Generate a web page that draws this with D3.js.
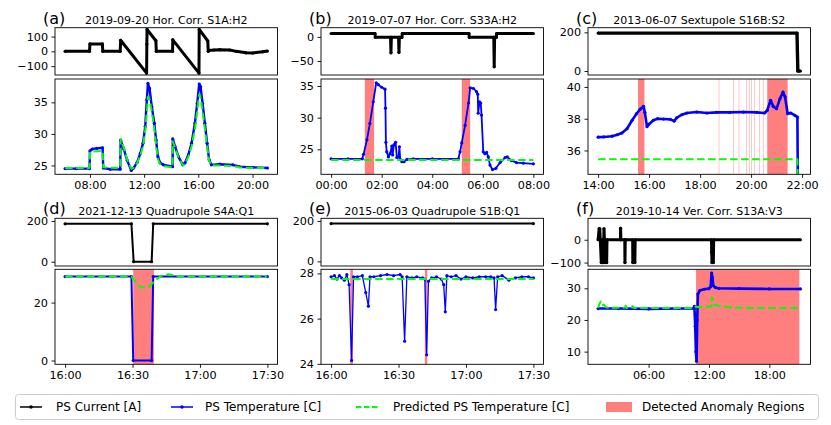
<!DOCTYPE html>
<html>
<head>
<meta charset="utf-8">
<script src="https://cdn.jsdelivr.net/npm/d3@7"></script>
<style>
  body { margin: 0; background: #fff; }
  svg { font-family: "DejaVu Sans", sans-serif; }
</style>
</head>
<body>
<svg id="chart" width="831" height="425"></svg>
<script>
// ---------- data (time "HH:MM", minutes may be fractional) ----------

// (a) 2019-09-20 Hor. Corr. S1A:H2
const aCurrent = [["06:10",0],["07:58",0],["08:00",50],["08:55",50],["08:57",0],["10:14",0],["10:16",75],["12:11",-147],["12:12",48],["12:13",148],["12:52",72],["12:54",0],["14:06",0],["14:07",78],["16:03",-147],["16:04",148],["16:42",70],["16:44",0],["16:46",5],["17:10",9],["17:35",11],["18:19",9],["18:48",0],["19:32",-10],["20:01",-11],["20:45",-3],["21:06",2]];
const aTemp = [["06:10",24.5],["07:00",24.5],["07:58",24.5],["08:00",27.3],["08:10",27.6],["08:30",27.7],["08:56",27.8],["08:59",24.6],["09:30",24.4],["10:14",24.4],["10:16",29.0],["10:30",27.6],["10:45",25.8],["11:03",24.2],["11:14",24.6],["11:29",25.5],["11:43",26.9],["11:55",28.5],["12:05",31.2],["12:12",35.4],["12:17",38.0],["12:24",37.2],["12:34",34.3],["12:45",31.7],["12:53",29.0],["13:01",26.4],["13:11",25.4],["13:26",25.1],["14:06",24.8],["14:07",29.2],["14:17",28.0],["14:32",26.4],["14:51",25.1],["15:01",25.4],["15:16",26.7],["15:30",28.5],["15:45",31.7],["15:55",34.8],["16:04",37.9],["16:10",37.5],["16:19",34.8],["16:29",31.7],["16:39",28.5],["16:48",25.9],["16:58",25.1],["17:35",25.2],["18:33",25.1],["19:03",24.8],["20:01",24.7],["21:06",24.6]];
const aPred = [["06:10",24.6],["07:58",24.6],["08:01",27.2],["08:56",27.3],["08:59",24.7],["10:14",24.6],["10:16",29.2],["10:30",27.8],["10:45",25.9],["11:03",24.5],["11:14",24.6],["11:29",25.4],["11:43",26.6],["11:55",28.0],["12:05",30.5],["12:12",33.5],["12:17",35.9],["12:24",35.5],["12:34",33.5],["12:45",30.8],["12:53",28.2],["13:01",26.0],["13:11",25.2],["13:26",24.9],["14:06",24.7],["14:07",28.8],["14:17",27.8],["14:32",26.3],["14:51",25.0],["15:01",25.2],["15:16",26.4],["15:30",28.0],["15:45",30.8],["15:55",33.5],["16:04",36.3],["16:10",35.8],["16:19",33.5],["16:29",30.8],["16:39",28.0],["16:48",25.8],["16:58",25.0],["17:35",25.0],["18:33",24.9],["19:03",24.7],["20:01",24.6],["21:06",24.6]];
const aSpans = [];
const aCurLim = [-160, 160], aTempLim = [23.6, 38.7];
const aCurTicks = [-100, 0, 100], aTempTicks = [25, 30, 35];
const aXTicks = ["08:00","12:00","16:00","20:00"];

// (b) 2019-07-07 Hor. Corr. S33A:H2
const bCurrent = [["00:00",7],["01:44",7],["01:45",-1],["02:21",-1],["02:22",-33],["02:23",-1],["02:40",-1],["02:41",-32],["02:42",-1],["02:48",-1],["02:49",7],["05:27",7],["05:28",-1],["06:26",-1],["06:27",-62],["06:28",-1],["06:32",-1],["06:33",7],["08:00",7]];
const bTemp = [["00:00",23.5],["00:40",23.5],["01:14",23.5],["01:17",24.2],["01:25",26.5],["01:32",29.1],["01:40",32.5],["01:47",35.5],["01:52",35.2],["02:00",34.8],["02:08",34.5],["02:09",31.5],["02:10",26.1],["02:12",24.6],["02:16",23.8],["02:20",24.3],["02:24",25.5],["02:26",24.1],["02:29",25.7],["02:33",26.1],["02:36",23.7],["02:40",23.8],["02:42",25.4],["02:44",23.4],["02:48",23.05],["02:53",23.05],["03:00",23.4],["03:15",23.5],["04:00",23.5],["05:02",23.5],["05:06",24.6],["05:10",26.0],["05:18",28.8],["05:26",32.3],["05:30",34.7],["05:38",34.6],["05:45",34.1],["05:48",33.7],["05:49",30.7],["05:52",32.5],["05:55",32.3],["05:57",30.4],["06:01",24.6],["06:05",24.3],["06:09",24.5],["06:13",23.8],["06:17",22.5],["06:23",21.8],["06:31",22.0],["06:41",22.9],["06:53",23.7],["06:58",23.8],["07:08",23.2],["07:20",22.9],["07:36",22.8],["08:00",22.7]];
const bPred = [["00:00",23.3],["04:00",23.3],["08:00",23.3]];
const bSpans = [["01:20","01:42"],["05:10","05:30"]];
const bCurLim = [-79, 19], bTempLim = [21.05, 36.1];
const bCurTicks = [-50, 0], bTempTicks = [25, 30, 35];
const bXTicks = ["00:00","02:00","04:00","06:00","08:00"];

// (c) 2013-06-07 Sextupole S16B:S2
const cCurrent = [["14:00",196],["21:48",196],["21:50",0],["21:56",0]];
const cTemp = [["14:00",36.84],["14:13",36.85],["14:33",36.9],["14:45",36.99],["14:56",37.1],["15:08",37.37],["15:20",37.9],["15:30",38.3],["15:39",38.6],["15:47",38.78],["15:50",38.4],["15:55",37.5],["15:59",37.64],["16:10",37.9],["16:20",38.0],["16:34",37.98],["16:50",37.96],["16:59",37.85],["17:05",38.06],["17:17",38.25],["17:29",38.36],["17:52",38.42],["18:16",38.36],["18:39",38.4],["19:10",38.4],["19:42",38.42],["20:13",38.4],["20:32",38.36],["20:38",38.53],["20:46",39.16],["20:52",38.78],["21:00",38.63],["21:08",39.26],["21:15",39.68],["21:20",39.37],["21:26",38.32],["21:33",38.36],["21:43",38.21],["21:49",38.1],["21:50",34.0]];
const cPred = [["14:00",35.45],["18:00",35.45],["21:49",35.45],["21:50",34.0]];
const cSpans = [["15:34","15:49"],["18:44","18:45"],["19:18","19:19"],["19:31","19:32"],["19:49","19:50"],["19:56","19:57"],["20:01","20:02"],["20:07","20:08"],["20:19","20:20"],["20:29","20:30"],["20:38","21:26"]];
const cCurLim = [-20.7, 224], cTempLim = [34.5, 40.5];
const cCurTicks = [0, 200], cTempTicks = [36, 38, 40];
const cXTicks = ["14:00","16:00","18:00","20:00","22:00"];

// (d) 2021-12-13 Quadrupole S4A:Q1
const dCurrent = [["16:00",186],["16:29.5",186],["16:30.5",0],["16:38.5",0],["16:39.2",186],["17:30",186]];
const dTemp = [["16:00",29],["16:29.5",29],["16:30.3",0],["16:38.5",0],["16:39.2",29],["17:30",29]];
const dPred = [["16:00",29],["16:29.5",29],["16:30.7",27.8],["16:32.9",25.7],["16:35.1",25.2],["16:37.3",25.5],["16:39.5",27.2],["16:42.5",29.2],["16:46.1",29.8],["16:48.3",29.4],["16:51.2",29.0],["17:30",29]];
const dSpans = [["16:30.3","16:39.5"]];
const dCurLim = [-21, 213], dTempLim = [-1.3, 31.5];
const dCurTicks = [0, 200], dTempTicks = [0, 20];
const dXTicks = ["16:00","16:30","17:00","17:30"];

// (e) 2015-06-03 Quadrupole S1B:Q1
const eCurrent = [["16:00",187],["17:30",187]];
const eTemp = [["16:00",27.85],["16:01.5",27.9],["16:02.6",27.75],["16:03.7",27.9],["16:04.7",27.8],["16:05.9",27.7],["16:07",27.95],["16:08",27.5],["16:09.1",24.15],["16:10",27.85],["16:11.7",27.85],["16:13.9",27.9],["16:15.4",27.15],["16:16.6",26.55],["16:17.3",27.85],["16:19",27.85],["16:22",27.9],["16:24.9",27.95],["16:27.8",27.9],["16:30.7",27.95],["16:31.6",27.85],["16:32.7",25.0],["16:33.7",27.85],["16:35.9",27.8],["16:38.1",27.85],["16:40.7",27.8],["16:41.7",27.75],["16:42.5",24.4],["16:43.3",27.65],["16:44.7",27.8],["16:46.9",27.85],["16:49",27.75],["16:50.1",27.5],["16:50.8",26.3],["16:51.5",27.9],["16:53.4",27.85],["16:55.6",27.9],["16:57.8",27.75],["17:00",27.85],["17:03",27.8],["17:05.9",27.85],["17:08.8",27.85],["17:11",27.85],["17:12.5",27.8],["17:13.2",26.4],["17:14.1",27.85],["17:16.1",27.9],["17:19.1",27.7],["17:22",27.8],["17:24.9",27.85],["17:27.8",27.85],["17:30",27.8]];
const ePred = [["16:00",27.75],["16:45",27.75],["17:30",27.75]];
const eSpans = [["16:08.5","16:09.7"],["16:41.7","16:42.8"]];
const eCurLim = [-23, 213], eTempLim = [23.98, 28.18];
const eCurTicks = [0, 200], eTempTicks = [24, 26, 28];
const eXTicks = ["16:00","16:30","17:00","17:30"];

// (f) 2019-10-14 Ver. Corr. S13A:V3
const fCurrent = [["00:59",0],["01:05",48],["01:07",0],["01:09",48],["01:12",0],["01:18",-100],["01:24",-100],["01:27",0],["01:30",-100],["01:34",48],["01:37",0],["01:40",-100],["01:50",-100],["01:52",0],["03:12",0],["03:13",50],["03:15",0],["03:38",0],["03:39",-100],["03:41",0],["04:25",0],["04:26",-100],["04:38",-100],["04:40",0],["12:15",0],["12:16",-55],["12:18",-100],["12:26",-100],["12:28",0],["21:05",0]];
const fTemp = [["00:59",23.6],["03:00",23.6],["06:00",23.5],["09:00",23.6],["10:31",23.6],["10:33",24.3],["10:38",18],["10:42",10],["10:46",7],["10:50",20],["10:54",28.2],["11:05",29.3],["11:30",29.7],["12:00",29.9],["12:10",30.5],["12:16",34.8],["12:20",33.5],["12:26",30.8],["12:40",30.2],["13:00",30.0],["15:00",29.9],["18:00",29.8],["21:05",29.8]];
const fPred = [["00:59",23.8],["01:08",25.2],["01:14",25.8],["01:22",24.6],["01:32",24.8],["01:45",24.1],["02:00",23.8],["03:38",23.9],["03:43",24.5],["03:50",23.8],["04:20",23.9],["04:24",24.4],["04:32",23.8],["10:31",23.8],["10:40",24.2],["11:30",24.1],["12:14",24.3],["12:18",27.2],["12:24",26.0],["12:30",24.8],["13:00",24.5],["14:00",24.0],["16:00",23.8],["21:05",23.8]];
const fSpans = [["10:43","20:59"]];
const fCurLim = [-115, 94], fTempLim = [6, 36];
const fCurTicks = [-100, 0], fTempTicks = [10, 20, 30];
const fXTicks = ["06:00","12:00","18:00"];

const legendLabels = ["PS Current [A]", "PS Temperature [C]", "Predicted PS Temperature [C]", "Detected Anomaly Regions"];

// ---------- layout ----------
const W = 222.5;
const colLeft = [55, 321, 588];
const rowBox = [
  { top: [27.7, 75], bot: [79, 174.3] },
  { top: [218.3, 266], bot: [269.3, 364.3] }
];

const panels = [
  { lab: "(a)", title: "2019-09-20 Hor. Corr. S1A:H2", cur: aCurrent, temp: aTemp, pred: aPred, spans: aSpans, curLim: aCurLim, tempLim: aTempLim, curTicks: aCurTicks, tempTicks: aTempTicks, xTicks: aXTicks, lw: [3, 2.4] },
  { lab: "(b)", title: "2019-07-07 Hor. Corr. S33A:H2", cur: bCurrent, temp: bTemp, pred: bPred, spans: bSpans, curLim: bCurLim, tempLim: bTempLim, curTicks: bCurTicks, tempTicks: bTempTicks, xTicks: bXTicks, lw: [3, 1.8] },
  { lab: "(c)", title: "2013-06-07 Sextupole S16B:S2", cur: cCurrent, temp: cTemp, pred: cPred, spans: cSpans, curLim: cCurLim, tempLim: cTempLim, curTicks: cCurTicks, tempTicks: cTempTicks, xTicks: cXTicks, lw: [3.4, 2.6] },
  { lab: "(d)", title: "2021-12-13 Quadrupole S4A:Q1", cur: dCurrent, temp: dTemp, pred: dPred, spans: dSpans, curLim: dCurLim, tempLim: dTempLim, curTicks: dCurTicks, tempTicks: dTempTicks, xTicks: dXTicks, lw: [2, 2] },
  { lab: "(e)", title: "2015-06-03 Quadrupole S1B:Q1", cur: eCurrent, temp: eTemp, pred: ePred, spans: eSpans, curLim: eCurLim, tempLim: eTempLim, curTicks: eCurTicks, tempTicks: eTempTicks, xTicks: eXTicks, lw: [2, 1.3] },
  { lab: "(f)", title: "2019-10-14 Ver. Corr. S13A:V3", cur: fCurrent, temp: fTemp, pred: fPred, spans: fSpans, curLim: fCurLim, tempLim: fTempLim, curTicks: fCurTicks, tempTicks: fTempTicks, xTicks: fXTicks, lw: [3, 2.6] }
];

const svg = d3.select("#chart");
const numFmt = d3.format("d");

// "HH:MM" -> Date (minutes may carry a fraction)
function tp(s) {
  const p = s.split(":");
  return new Date(2000, 0, 1, +p[0], 0, 0, Math.round(+p[1] * 60000));
}

function drawSeries(g, data, x, y, color, lw, dashed, marker) {
  const pts = data.map(d => [x(tp(d[0])), y(d[1])]);
  const path = g.append("path")
    .attr("d", d3.line()(pts))
    .attr("fill", "none")
    .attr("stroke", color)
    .attr("stroke-width", lw)
    .attr("stroke-linejoin", "round");
  if (dashed) path.attr("stroke-dasharray", "7.5 3.5");
  if (marker) {
    g.selectAll(null).data(pts).join("circle")
      .attr("cx", d => d[0]).attr("cy", d => d[1])
      .attr("r", 1.6).attr("fill", color);
  }
}

function styleAxis(g) {
  g.select(".domain").remove();
  g.attr("font-size", 11.2).attr("font-family", "DejaVu Sans, sans-serif");
  g.selectAll("text").attr("fill", "#000");
  g.selectAll("line").attr("stroke", "#000").attr("stroke-width", 0.9);
}

panels.forEach((p, i) => {
  const col = i % 3, row = Math.floor(i / 3);
  const L = colLeft[col], R = L + W, box = rowBox[row];

  const times = p.cur.concat(p.temp, p.pred).map(d => tp(d[0]));
  const ext = d3.extent(times), pad = (ext[1] - ext[0]) * 0.05;
  const x = d3.scaleTime().domain([new Date(+ext[0] - pad), new Date(+ext[1] + pad)]).range([L, R]);
  const yC = d3.scaleLinear().domain(p.curLim).range([box.top[1], box.top[0]]);
  const yT = d3.scaleLinear().domain(p.tempLim).range([box.bot[1], box.bot[0]]);

  // clip areas
  const defs = svg.append("defs");
  defs.append("clipPath").attr("id", "ct" + i).append("rect")
    .attr("x", L).attr("y", box.top[0]).attr("width", W).attr("height", box.top[1] - box.top[0]);
  defs.append("clipPath").attr("id", "cb" + i).append("rect")
    .attr("x", L).attr("y", box.bot[0]).attr("width", W).attr("height", box.bot[1] - box.bot[0]);

  // current subplot
  const gt = svg.append("g").attr("clip-path", `url(#ct${i})`);
  drawSeries(gt, p.cur, x, yC, "#000", p.lw[0], false, true);

  // temperature subplot
  const gb = svg.append("g").attr("clip-path", `url(#cb${i})`);
  gb.selectAll("rect.span").data(p.spans).join("rect")
    .attr("class", "span")
    .attr("x", d => x(tp(d[0])))
    .attr("width", d => x(tp(d[1])) - x(tp(d[0])))
    .attr("y", box.bot[0]).attr("height", box.bot[1] - box.bot[0])
    .attr("fill", "red").attr("fill-opacity", 0.5);
  drawSeries(gb, p.temp, x, yT, "#0000ff", p.lw[1], false, true);
  drawSeries(gb, p.pred, x, yT, "#00ff00", 2, true, false);

  // axes
  svg.append("g").attr("transform", `translate(${L},0)`)
    .call(d3.axisLeft(yC).tickValues(p.curTicks).tickFormat(numFmt).tickSize(3.5).tickPadding(3.5))
    .call(styleAxis);
  svg.append("g").attr("transform", `translate(${L},0)`)
    .call(d3.axisLeft(yT).tickValues(p.tempTicks).tickFormat(numFmt).tickSize(3.5).tickPadding(3.5))
    .call(styleAxis);
  svg.append("g").attr("transform", `translate(0,${box.bot[1]})`)
    .call(d3.axisBottom(x).tickValues(p.xTicks.map(tp)).tickFormat(d3.timeFormat("%H:%M")).tickSize(3.5).tickPadding(3.5))
    .call(styleAxis);

  // frames
  [box.top, box.bot].forEach(b => {
    svg.append("rect").attr("x", L).attr("y", b[0]).attr("width", W).attr("height", b[1] - b[0])
      .attr("fill", "none").attr("stroke", "#000").attr("stroke-width", 0.9);
  });

  // title and panel label
  svg.append("text").attr("x", (L + R) / 2).attr("y", box.top[0] - 3.5)
    .attr("text-anchor", "middle").attr("font-size", 11).text(p.title);
  svg.append("text").attr("x", L - 12).attr("y", box.top[0] - 4)
    .attr("font-size", 16).text(p.lab);
});

// ---------- legend ----------
const lg = svg.append("g");
lg.append("rect").attr("x", 15.5).attr("y", 394.5).attr("width", 803).attr("height", 25)
  .attr("rx", 3).attr("fill", "#fff").attr("stroke", "#ccc").attr("stroke-width", 1);
const ly = 407;
const items = [
  { x: 20, tx: 56, color: "#000", kind: "line" },
  { x: 171, tx: 205, color: "#0000ff", kind: "line" },
  { x: 356, tx: 393, color: "#00ff00", kind: "dash" },
  { x: 606, tx: 642, color: "red", kind: "patch" }
];
items.forEach((it, k) => {
  if (it.kind === "patch") {
    lg.append("rect").attr("x", it.x).attr("y", ly - 5).attr("width", 26).attr("height", 10)
      .attr("fill", "red").attr("fill-opacity", 0.5);
  } else {
    const ln = lg.append("line").attr("x1", it.x).attr("x2", it.x + 22).attr("y1", ly).attr("y2", ly)
      .attr("stroke", it.color).attr("stroke-width", it.kind === "dash" ? 2 : 1.5);
    if (it.kind === "dash") ln.attr("stroke-dasharray", "5.5 2.5");
    else lg.append("circle").attr("cx", it.x + 11).attr("cy", ly).attr("r", 1.8).attr("fill", it.color);
  }
  lg.append("text").attr("x", it.tx).attr("y", ly + 4.3).attr("font-size", 12).text(legendLabels[k]);
});
</script>
</body>
</html>
